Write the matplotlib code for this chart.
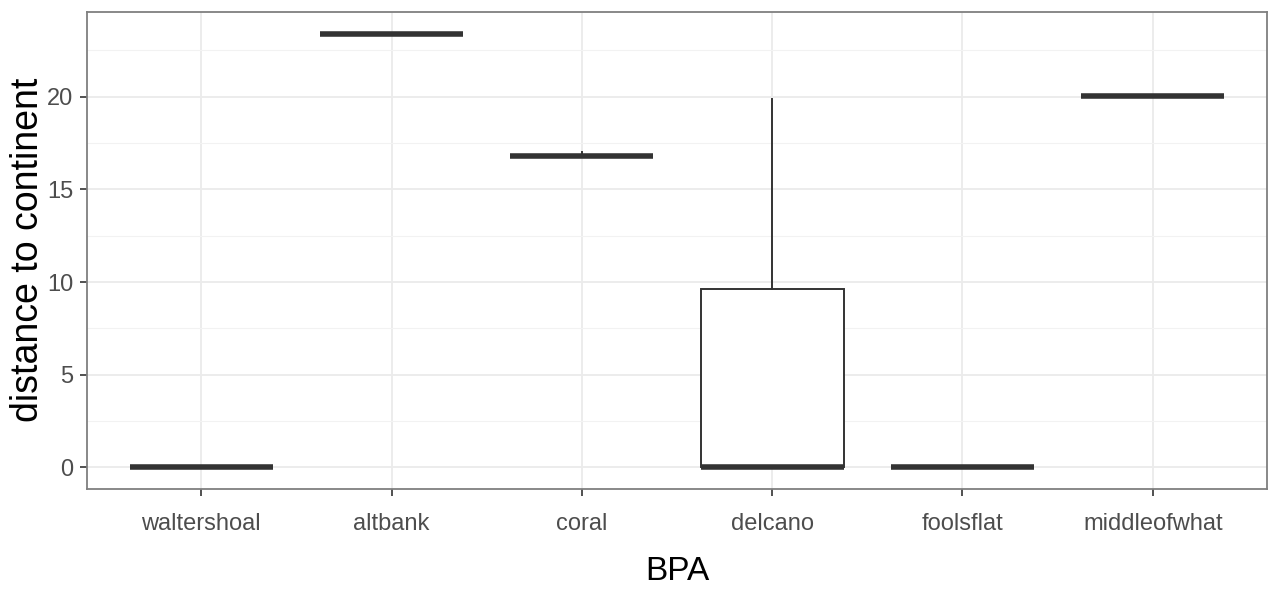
import matplotlib
matplotlib.use("Agg")
import matplotlib.pyplot as plt
from matplotlib.ticker import MultipleLocator
import numpy as np

# box statistics per BPA site
BPA = ['waltershoal', 'altbank', 'coral', 'delcano', 'foolsflat', 'middleofwhat']
whislo = [0.0, 23.4, 16.78, 0.0, 0.0, 20.05]
q1 = [0.0, 23.4, 16.78, 0.0, 0.0, 20.05]
med = [0.0, 23.4, 16.78, 0.0, 0.0, 20.05]
q3 = [0.0, 23.4, 16.78, 9.6, 0.0, 20.05]
whishi = [0.0, 23.4, 17.0, 19.85, 0.0, 20.05]

stats = []
for i, name in enumerate(BPA):
    stats.append(dict(label=name, whislo=whislo[i], q1=q1[i], med=med[i],
                      q3=q3[i], whishi=whishi[i], fliers=[]))

fam = ['Liberation Sans', 'DejaVu Sans']
plt.rcParams['font.family'] = fam

fig = plt.figure(figsize=(12.74, 5.92), dpi=100)
ax = fig.add_axes([87 / 1274, 1 - 489 / 592, (1267 - 87) / 1274, (489 - 12) / 592])

pos = np.arange(len(BPA))
ax.bxp(stats, positions=pos, widths=0.75, showcaps=False, patch_artist=True,
       boxprops=dict(facecolor='white', edgecolor='#333333', linewidth=1.4),
       whiskerprops=dict(color='#333333', linewidth=1.4),
       medianprops=dict(color='#333333', linewidth=4.0, solid_capstyle='butt'),
       zorder=3)

ax.set_xlim(-0.6, len(BPA) - 0.4)
ymax = max(whishi)
ax.set_ylim(-0.05 * ymax, ymax * 1.05)

# theme_bw style grid
ax.yaxis.set_major_locator(MultipleLocator(5))
ax.yaxis.set_minor_locator(MultipleLocator(2.5))
ax.grid(which='major', color='#EBEBEB', linewidth=1.3)
ax.grid(which='minor', axis='y', color='#F2F2F2', linewidth=0.8)
ax.set_axisbelow(True)
for s in ax.spines.values():
    s.set_color('#7F7F7F')
    s.set_linewidth(1.3)

ax.set_xticks(pos)
ax.set_xticklabels(BPA)
ax.tick_params(which='major', length=5, width=1.2, color='#333333',
               labelcolor='#4D4D4D', labelsize=17)
ax.tick_params(axis='x', pad=12)
ax.tick_params(axis='y', pad=5)
ax.tick_params(which='minor', length=0)

ax.set_xlabel('BPA', fontsize=24)
ax.xaxis.set_label_coords(0.5, -(572 - 489) / 477, transform=ax.transAxes)
ax.xaxis.label.set_va('center')
ax.set_ylabel('distance to continent', fontsize=27)
ax.yaxis.set_label_coords(-(87 - 28) / 1180, (489 - 250) / 477)
ax.yaxis.label.set_va('center')

fig.savefig('out.png', dpi=100, facecolor='white')
